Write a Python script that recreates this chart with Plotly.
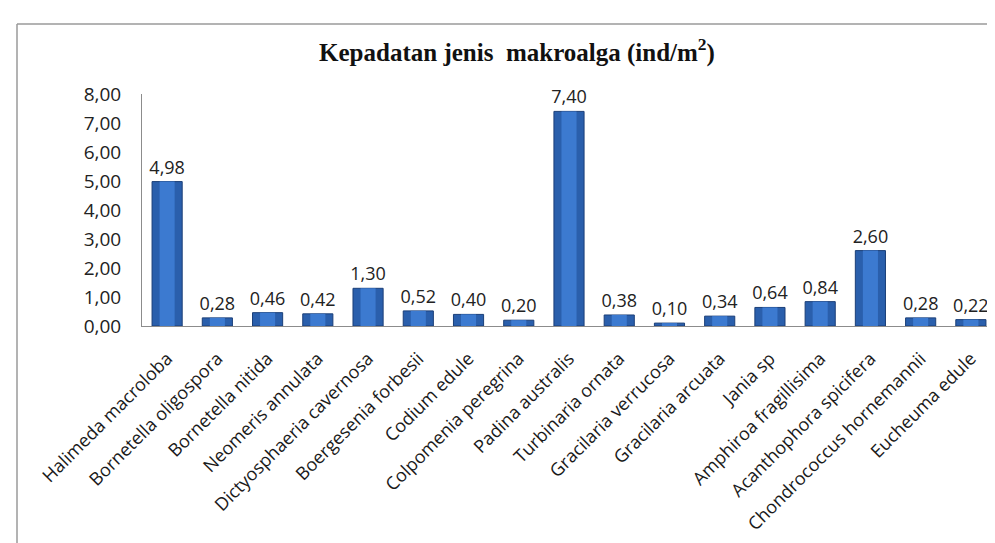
import plotly.graph_objects as go

categories = [
    "Halimeda macroloba", "Bornetella oligospora", "Bornetella nitida",
    "Neomeris annulata", "Dictyosphaeria cavernosa", "Boergesenia forbesii",
    "Codium edule", "Colpomenia peregrina", "Padina australis",
    "Turbinaria ornata", "Gracilaria verrucosa", "Gracilaria arcuata",
    "Jania sp", "Amphiroa fragillisima", "Acanthophora spicifera",
    "Chondrococcus hornemannii", "Eucheuma edule",
]
values = [4.98, 0.28, 0.46, 0.42, 1.30, 0.52, 0.40, 0.20, 7.40,
          0.38, 0.10, 0.34, 0.64, 0.84, 2.60, 0.28, 0.22]
y_ticks = [0, 1, 2, 3, 4, 5, 6, 7, 8]
y_tick_labels = ["0,00", "1,00", "2,00", "3,00", "4,00", "5,00", "6,00", "7,00", "8,00"]

labels = [f"{v:.2f}".replace(".", ",") for v in values]

fig = go.Figure()
fig.add_trace(go.Bar(
    x=categories, y=values,
    marker=dict(color="#2A5FAC", line=dict(color="#1B3F78", width=1)),
    width=0.6,
    text=labels, textposition="outside", constraintext="none",
    textfont=dict(family="Open Sans", size=18, color="#222222"),
    cliponaxis=False, hoverinfo="skip",
))
# inner highlight for a shaded look
fig.add_trace(go.Bar(
    x=categories, y=values,
    marker=dict(color="#3C7AD0", line=dict(width=0)),
    width=0.3, hoverinfo="skip",
))

L, R, T, B = 134, 7, 86, 225
W, H = 995, 543
pw, ph = W - L - R, H - T - B

def px_x(px):
    return (px - L) / pw

def px_y(py):
    return (H - B - py) / ph

fig.update_layout(
    width=W, height=H,
    margin=dict(l=L, r=R, t=T, b=B),
    paper_bgcolor="white", plot_bgcolor="white",
    showlegend=False, barmode="overlay",
    title=dict(
        text="Kepadatan jenis  makroalga (ind/m<sup>2</sup>)",
        font=dict(family="Liberation Serif", size=25, color="#111111", weight="bold"),
        x=509 / W, xanchor="center", y=1 - 44 / H, yanchor="middle",
    ),
    xaxis=dict(
        tickangle=-45, showline=True, linecolor="#8C8C8C", linewidth=1,
        showgrid=False, ticks="", tickfont=dict(family="Open Sans", size=18, color="#1a1a1a"),
        ticklabelstandoff=14,
    ),
    yaxis=dict(
        range=[0, 8], tickvals=y_ticks, ticktext=y_tick_labels,
        showline=True, linecolor="#8C8C8C", linewidth=1, showgrid=False,
        zeroline=False, ticks="", ticklabelstandoff=16,
        tickfont=dict(family="Open Sans", size=19, color="#222222"),
    ),
    shapes=[
        dict(type="line", xref="paper", yref="paper", x0=px_x(9), x1=px_x(1000),
             y0=px_y(16), y1=px_y(16), line=dict(color="#9A9A9A", width=1.5)),
        dict(type="line", xref="paper", yref="paper", x0=px_x(9), x1=px_x(9),
             y0=px_y(16), y1=px_y(560), line=dict(color="#9A9A9A", width=1.5)),
    ],
)

fig.write_html("out.html")
